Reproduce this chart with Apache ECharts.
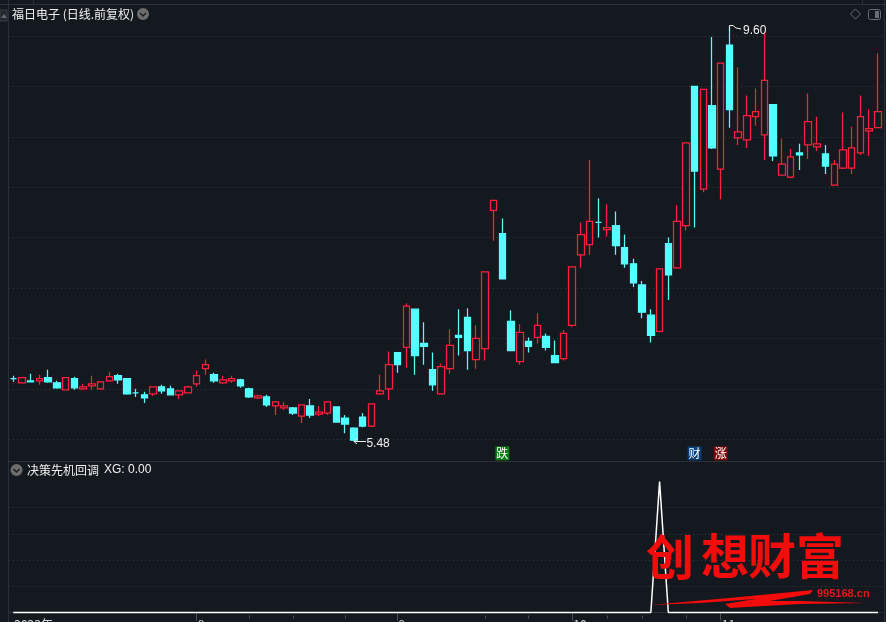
<!DOCTYPE html>
<html>
<head>
<meta charset="utf-8">
<style>
  html, body { margin: 0; padding: 0; background: #14181f; overflow: hidden; }
  #chart { width: 886px; height: 622px; }
</style>
<script src="https://cdn.jsdelivr.net/npm/echarts@6/dist/echarts.min.js"></script>
</head>
<body>
<div id="chart"></div>
<script>
const openPrice = [6.10,6.06,6.08,6.08,6.11,6.06,5.99,6.10,6.00,6.03,6.00,6.08,6.13,6.10,5.96,5.94,5.95,6.02,6.00,5.94,
  5.96,6.05,6.20,6.14,6.06,6.08,6.09,6.00,5.91,5.92,5.83,5.81,5.81,5.73,5.83,5.75,5.76,5.82,5.71,5.61,
  5.72,5.63,5.95,6.00,6.36,6.41,6.79,6.45,6.19,5.95,6.20,6.53,6.71,6.29,6.40,7.77,7.54,6.67,6.27,6.47,
  6.51,6.52,6.33,6.30,6.63,7.33,7.43,7.65,7.58,7.62,7.40,7.24,7.03,6.73,6.57,7.44,7.20,7.62,9.00,7.98,
  8.81,8.18,9.41,8.49,8.47,8.70,8.52,8.82,8.12,8.10,8.34,8.42,8.40,8.33,8.02,8.19,8.19,8.34,8.56,8.59];
const closePrice = [6.10,6.11,6.07,6.10,6.07,6.01,6.11,6.01,6.02,6.05,6.07,6.12,6.09,5.95,5.96,5.91,6.02,5.98,5.94,5.98,
  6.02,6.13,6.24,6.08,6.09,6.10,6.03,5.92,5.93,5.84,5.87,5.83,5.76,5.84,5.74,5.77,5.87,5.67,5.65,5.49,
  5.63,5.85,5.98,6.24,6.24,6.82,6.33,6.42,6.04,6.22,6.43,6.51,6.38,6.50,7.16,7.87,7.09,6.38,6.56,6.42,
  6.63,6.41,6.26,6.55,7.21,7.53,7.66,7.65,7.60,7.42,7.24,7.05,6.76,6.53,7.19,7.13,7.66,8.44,8.16,8.97,
  8.39,9.23,8.77,8.55,8.71,8.75,9.06,8.31,8.23,8.30,8.32,8.65,8.43,8.21,8.23,8.37,8.39,8.70,8.58,8.75];
const lowPrice = [6.07,6.06,6.07,6.04,6.06,6.00,5.99,5.99,5.99,5.99,5.99,6.07,6.05,5.94,5.92,5.86,5.93,5.95,5.94,5.90,
  5.96,6.02,6.14,6.06,6.05,6.06,6.01,5.91,5.90,5.82,5.74,5.79,5.74,5.66,5.71,5.73,5.74,5.67,5.56,5.48,
  5.62,5.62,5.94,5.89,6.16,6.21,6.14,6.24,5.98,5.95,6.15,6.33,6.19,6.20,6.28,7.47,7.09,6.38,6.24,6.36,
  6.45,6.38,6.26,6.28,6.61,7.20,7.33,7.50,7.51,7.33,7.20,7.01,6.70,6.46,6.56,6.88,7.19,7.57,7.60,7.95,
  8.38,7.88,8.59,8.42,8.39,8.61,8.27,8.26,8.12,8.09,8.17,8.28,8.36,8.13,8.02,8.18,8.13,8.32,8.31,8.59];
const highPrice = [6.13,6.11,6.15,6.14,6.19,6.08,6.11,6.12,6.05,6.13,6.07,6.17,6.15,6.10,6.00,5.97,6.02,6.04,6.03,5.98,
  6.03,6.18,6.29,6.16,6.13,6.13,6.10,6.01,5.94,5.94,5.87,5.87,5.82,5.84,5.90,5.83,5.87,5.82,5.74,5.62,
  5.76,5.85,6.14,6.37,6.36,6.85,6.79,6.66,6.36,6.25,6.59,6.79,6.80,6.63,7.16,7.87,7.69,6.78,6.64,6.51,
  6.75,6.55,6.48,6.58,7.21,7.65,8.27,7.89,7.83,7.76,7.53,7.29,7.07,6.79,7.19,7.50,7.82,8.44,9.00,8.97,
  9.49,9.23,9.60,9.19,8.91,8.98,9.54,8.82,8.48,8.38,8.43,8.93,8.70,8.42,8.27,8.74,8.60,8.91,8.77,9.33];

const xgSpikeIndex = 74;
const xgSpikeValue = 100;
const xgValues = openPrice.map((_, i) => (i === xgSpikeIndex ? xgSpikeValue : 0));

const categories = openPrice.map((_, i) => String(i));
const monthTickIndex = [21, 44, 64, 81];
const monthLabelIndex = [0, 21, 44, 64, 81];
const monthLabels = ["2023年", "8", "9", "10", "11"];
const weekTickIndex = [27, 32, 38, 54, 59, 68, 72, 77];

const priceLevels = [5.5, 6, 6.5, 7, 7.5, 8, 8.5, 9, 9.5];
const xgLevels = [20, 40, 60, 80];

const lowIndex = 39, lowValue = 5.48;
const highIndex = 82, highValue = 9.6;
const tagIndex = [56, 78, 81];
const tagText = ["跌", "财", "涨"];
const tagColor = ["#0b7a12", "#0b3d72", "#7d0a0a"];

const RED = "#ff1f3c", CYAN = "#55ffff", BG = "#14181f", FRAME = "#2b2f38", DOT = "#3b4048";
const CJK = '"Noto Sans CJK SC", "Liberation Sans", sans-serif';

const levelLine = (levels) => ({
  silent: true, symbol: "none", z: 1, animation: false, label: { show: false },
  lineStyle: { color: DOT, width: 1, type: [1, 3] },
  data: levels.map((v) => ({ yAxis: v })),
});

const hline = (x1, y, x2, color) => ({ type: "line", silent: true, z: 1, shape: { x1, y1: y, x2, y2: y }, style: { stroke: color || FRAME, lineWidth: 1 } });
const vline = (x, y1, y2) => ({ type: "line", silent: true, z: 1, shape: { x1: x, y1, x2: x, y2 }, style: { stroke: FRAME, lineWidth: 1 } });
const label = (text, x, y, font, fill) => ({ type: "text", silent: true, z: 20, x, y, style: { text, fill: fill || "#f0f0f0", font, textVerticalAlign: "middle" } });
const chevron = (cx, cy) => [
  { type: "circle", silent: true, z: 20, shape: { cx, cy, r: 6 }, style: { fill: "#6d6d6d" } },
  { type: "polyline", silent: true, z: 21, shape: { points: [[cx - 3, cy - 1], [cx, cy + 2], [cx + 3, cy - 1]] }, style: { stroke: "#1c1c1c", fill: null, lineWidth: 1.4 } },
];
const extremeLabel = (coord, text, offset) => ({
  coord, symbol: "circle", symbolSize: 1, itemStyle: { color: "transparent" },
  label: { show: true, formatter: text, position: "right", offset, color: "#f0f0f0", fontSize: 12, fontFamily: "Liberation Sans" },
});

const chart = echarts.init(document.getElementById("chart"));
chart.setOption({
  animation: false,
  backgroundColor: BG,
  tooltip: { show: false },
  grid: [
    { left: 8.9, width: 873.4, top: 10, height: 451, outerBoundsMode: "none" },
    { left: 8.9, width: 873.4, top: 462, height: 150.5, outerBoundsMode: "none" },
  ],
  xAxis: [
    { type: "category", gridIndex: 0, data: categories, show: false },
    {
      type: "category", gridIndex: 1, position: "bottom", data: categories, offset: 3,
      axisLine: { show: true, lineStyle: { color: FRAME } },
      axisTick: { show: true, alignWithLabel: true, length: 8, interval: (i) => monthTickIndex.includes(i), lineStyle: { color: "#4a4e56" } },
      axisLabel: {
        show: true, margin: 3, color: "#d8d8d8", fontSize: 12, fontFamily: CJK, align: "left", verticalAlign: "top",
        padding: [0, 0, 0, 1], hideOverlap: false,
        interval: (i) => monthLabelIndex.includes(i),
        formatter: (v, i) => monthLabels[monthLabelIndex.indexOf(i)],
      },
    },
    {
      type: "category", gridIndex: 1, position: "bottom", data: categories, offset: 3,
      axisLine: { show: false }, axisLabel: { show: false },
      axisTick: { show: true, alignWithLabel: true, length: 3, interval: (i) => weekTickIndex.includes(i), lineStyle: { color: "#4a4e56" } },
    },
  ],
  yAxis: [
    { type: "value", gridIndex: 0, min: 5.284, max: 9.758, show: false, splitLine: { show: false } },
    { type: "value", gridIndex: 1, min: 0, max: 114.9, show: false, splitLine: { show: false } },
  ],
  series: [
    {
      type: "candlestick", xAxisIndex: 0, yAxisIndex: 0, barWidth: 7,
      data: openPrice.map((o, i) => [o, closePrice[i], lowPrice[i], highPrice[i]]),
      itemStyle: { color: BG, color0: CYAN, borderColor: RED, borderColor0: CYAN, borderColorDoji: CYAN, borderWidth: 1.25 },
      markLine: levelLine(priceLevels),
      markPoint: {
        silent: true, animation: false,
        data: [
          extremeLabel([highIndex, highValue], highValue.toFixed(2), [8, 5]),
          extremeLabel([lowIndex, lowValue], lowValue.toFixed(2), [7, 2]),
        ].concat(tagIndex.map((idx, i) => ({
          coord: [idx, 5.36], symbol: "rect", symbolSize: 14,
          itemStyle: { color: tagColor[i] },
          label: { show: true, formatter: tagText[i], position: "inside", color: "#ffffff", fontSize: 12, fontFamily: CJK },
        }))),
      },
    },
    {
      type: "line", xAxisIndex: 1, yAxisIndex: 1, data: xgValues, showSymbol: false, clip: false, z: 3,
      lineStyle: { color: "#ffffff", width: 1.5 },
      markLine: levelLine(xgLevels),
    },
  ],
  graphic: [
    hline(0, 4.5, 886), vline(8.5, 0, 622), vline(884.5, 0, 622), vline(862.5, 0, 4), vline(33.5, 0, 4),
    hline(9, 461.5, 886),
    { type: "rect", silent: true, z: 2, shape: { x: 0, y: 10, width: 7, height: 11 }, style: { stroke: "#3a3e46", fill: "#22262e" } },
    { type: "polygon", silent: true, z: 3, shape: { points: [[1, 18], [4, 14], [7, 18]] }, style: { fill: "#666a70" } },
    label("福日电子 (日线.前复权)", 12, 14, "12px " + CJK),
    ...chevron(143, 14),
    ...chevron(16.5, 470),
    label("决策先机回调", 27, 470, "12px " + CJK),
    label("XG: 0.00", 104, 470, '12px "Liberation Sans"'),
    { type: "polygon", silent: true, z: 20, shape: { points: [[855.5, 9], [860.5, 14], [855.5, 19], [850.5, 14]] }, style: { stroke: "#6a6e74", fill: null } },
    { type: "rect", silent: true, z: 20, shape: { x: 868.5, y: 9.5, width: 12, height: 10, r: 2 }, style: { stroke: "#6a6e74", fill: null } },
    { type: "rect", silent: true, z: 20, shape: { x: 875, y: 11, width: 4, height: 7 }, style: { fill: "#6a6e74" } },
    { type: "polyline", silent: true, z: 20, shape: { points: [[729.5, 31], [729.5, 25.5], [733, 25.5], [736, 28], [741, 29]] }, style: { stroke: "#eeeeee", fill: null, lineWidth: 1 } },
    { type: "polyline", silent: true, z: 20, shape: { points: [[357, 439], [354, 441.5], [366, 441.5]] }, style: { stroke: "#eeeeee", fill: null, lineWidth: 1 } },
    { type: "polyline", silent: true, z: 20, shape: { points: [[354, 441.5], [357, 444]] }, style: { stroke: "#eeeeee", fill: null, lineWidth: 1 } },
    label("创", 646, 557, '700 48px "Noto Sans CJK SC"', "#f20c0c"),
    label("想", 701, 556, '700 48px "Noto Sans CJK SC"', "#f20c0c"),
    label("财", 748, 556, '700 48px "Noto Sans CJK SC"', "#f20c0c"),
    label("富", 796, 556, '700 48px "Noto Sans CJK SC"', "#f20c0c"),
    label("995168.cn", 817, 594, 'bold 11px "Liberation Sans"', "#e01818"),
    { type: "polygon", silent: true, z: 20, shape: { points: [[650, 605], [740, 597], [813, 590], [810, 594], [770, 601], [800, 601], [867, 603], [800, 604], [730, 608], [725, 604], [755, 599], [700, 603]] }, style: { fill: "#f20c0c" } },
  ],
});
</script>
</body>
</html>
